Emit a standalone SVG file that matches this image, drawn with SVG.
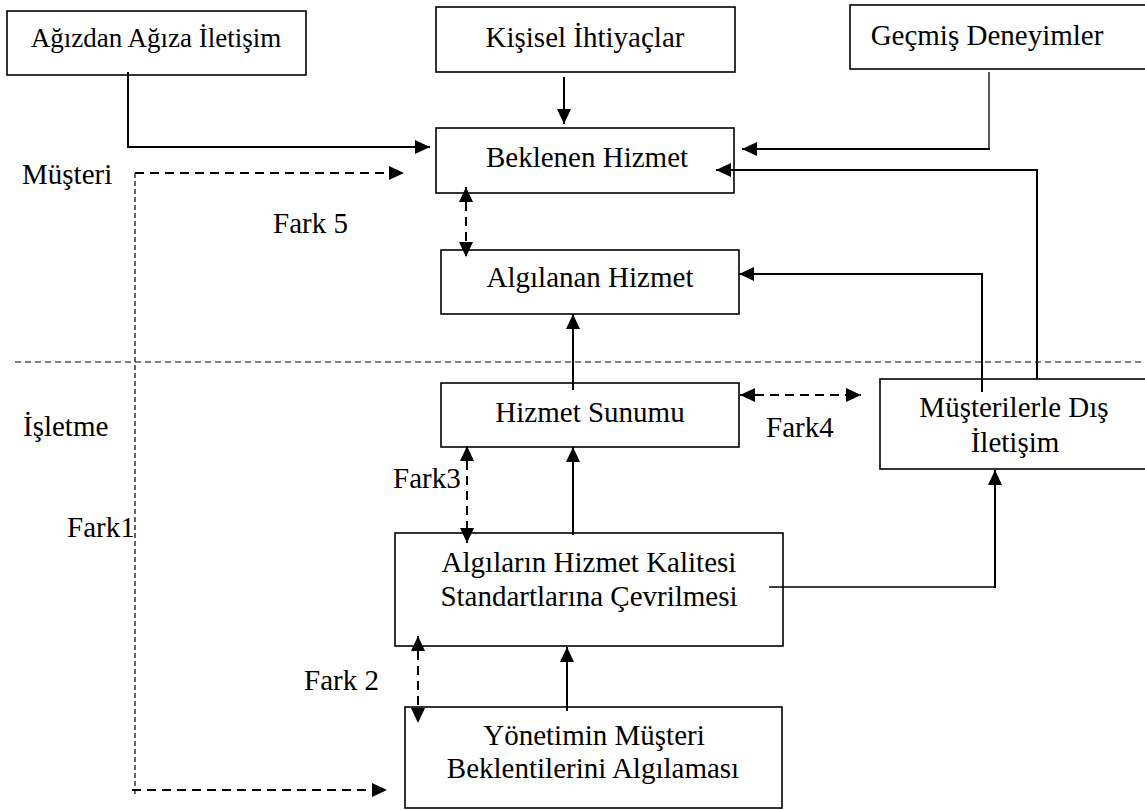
<svg xmlns="http://www.w3.org/2000/svg" width="1145" height="810" viewBox="0 0 1145 810">
<style>
.box{fill:#fff;stroke:#000;stroke-width:1.6}
.t{font-family:"Liberation Serif","Times New Roman",serif;font-size:29px;fill:#000}
.c{text-anchor:middle}
.ln{fill:none;stroke:#000;stroke-width:2}
.thin{fill:none;stroke:#000;stroke-width:1.3}
.dash{fill:none;stroke:#000;stroke-width:2;stroke-dasharray:9 6}
.dot{fill:none;stroke:#000;stroke-width:1.2;stroke-dasharray:5 3}
.sep{fill:none;stroke:#000;stroke-width:1;stroke-dasharray:6 4}
</style>
<defs>
<marker id="ah" markerUnits="userSpaceOnUse" markerWidth="15" markerHeight="14" refX="15" refY="7" orient="auto-start-reverse" viewBox="0 0 15 14">
<path d="M0,0 L15,7 L0,14 z" fill="#000"/>
</marker>
</defs>
<rect width="1145" height="810" fill="#fff"/>

<g id="guides">
<path class="sep" d="M15,362 H1145"/>
<path class="dot" d="M135,173 V795"/>
</g>

<g id="n-agizdan"><rect class="box" x="7" y="11" width="299" height="64"/><text class="t c" x="156" y="47" style="font-size:27px">Ağızdan Ağıza İletişim</text></g>
<g id="n-kisisel"><rect class="box" x="436" y="7" width="299" height="65"/><text class="t c" x="585" y="47">Kişisel İhtiyaçlar</text></g>
<g id="n-gecmis"><rect class="box" x="850" y="5" width="310" height="64"/><text class="t c" x="987" y="45">Geçmiş Deneyimler</text></g>
<g id="n-beklenen"><rect class="box" x="436" y="128" width="298" height="65"/><text class="t c" x="587" y="167">Beklenen Hizmet</text></g>
<g id="n-algilanan"><rect class="box" x="441" y="250" width="298" height="64"/><text class="t c" x="590" y="287">Algılanan Hizmet</text></g>
<g id="n-sunum"><rect class="box" x="441" y="383" width="298" height="64"/><text class="t c" x="590" y="422">Hizmet Sunumu</text></g>
<g id="n-dis"><rect class="box" x="880" y="379" width="280" height="90"/><text class="t c" x="1014" y="417">Müşterilerle Dış</text><text class="t c" x="1015" y="452">İletişim</text></g>
<g id="n-standart"><rect class="box" x="395" y="533" width="388" height="113"/><text class="t c" x="589" y="572">Algıların Hizmet Kalitesi</text><text class="t c" x="589" y="606">Standartlarına Çevrilmesi</text></g>
<g id="n-yonetim"><rect class="box" x="405" y="707" width="377" height="101"/><text class="t c" x="594" y="745">Yönetimin Müşteri</text><text class="t c" x="593" y="778">Beklentilerini Algılaması</text></g>

<g id="labels">
<text class="t" x="22" y="184">Müşteri</text>
<text class="t" x="273" y="233">Fark 5</text>
<text class="t" x="23" y="436">İşletme</text>
<text class="t" x="67" y="537">Fark1</text>
<text class="t" x="393" y="488">Fark3</text>
<text class="t" x="766" y="437">Fark4</text>
<text class="t" x="304" y="690">Fark 2</text>
</g>

<g id="connectors">
<path class="ln" d="M128,72 V147 H430" marker-end="url(#ah)"/>
<path class="ln" d="M564,77 V124" marker-end="url(#ah)"/>
<path class="thin" d="M989,72 V149"/>
<path class="ln" d="M990,149 H742" marker-end="url(#ah)"/>
<path class="ln" d="M1037,379 V170 H716" marker-end="url(#ah)"/>
<path class="ln" d="M982,392 V274 H739" marker-end="url(#ah)"/>
<path class="ln" d="M573,390 V314" marker-end="url(#ah)"/>
<path class="ln" d="M573,535 V447" marker-end="url(#ah)"/>
<path class="ln" d="M567,711 V647" marker-end="url(#ah)"/>
<path class="thin" d="M769,587 H995"/>
<path class="ln" d="M995,588 V470" marker-end="url(#ah)"/>
<path class="dash" d="M466,187 V257" marker-start="url(#ah)" marker-end="url(#ah)"/>
<path class="dash" d="M740,395 H861" marker-start="url(#ah)" marker-end="url(#ah)"/>
<path class="dash" d="M467,446 V543" marker-start="url(#ah)" marker-end="url(#ah)"/>
<path class="dash" d="M418,636 V723" marker-start="url(#ah)" marker-end="url(#ah)"/>
<path class="dash" d="M135,173 H404" marker-end="url(#ah)"/>
<path class="dash" d="M132,790 H387" marker-end="url(#ah)"/>
</g>
</svg>
